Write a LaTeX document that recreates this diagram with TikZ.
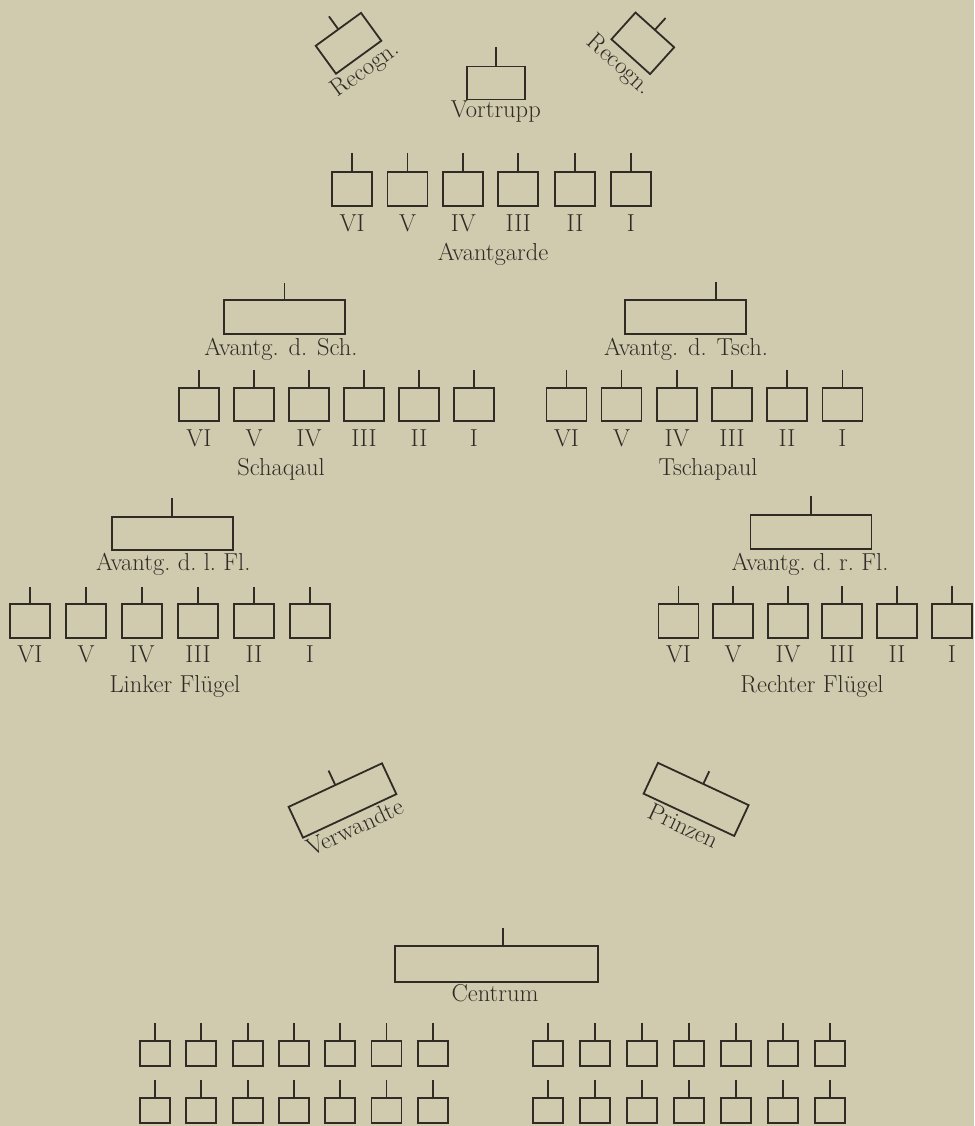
\documentclass[tikz,border=0pt]{standalone}
\usepackage{fontspec}
\definecolor{paper}{RGB}{208,203,175}
\definecolor{ink}{RGB}{48,43,37}
\tikzset{
  unitbox/.style={draw=ink, line width=1.8pt, rectangle, inner sep=0pt, outer sep=0pt},
  ticksty/.style={draw=ink, line width=1.8pt},
  lbl/.style={text=ink, inner sep=0pt, font=\fontsize{24.5}{29}\selectfont},
  sq/.style={unitbox, minimum width=40pt, minimum height=34pt},
  smallsq/.style={unitbox, minimum width=30pt, minimum height=25pt},
  wide/.style={unitbox, minimum width=121pt, minimum height=34pt}
}
\begin{document}
\begin{tikzpicture}[x=1pt,y=1pt]
\fill[paper] (0,0) rectangle (974,-1126);
\useasboundingbox (0,0) rectangle (974,-1126);

% ---------- Recognoscierung ----------
\begin{scope}[shift={(348.5,-43.3)}, rotate=36, transform shape]
  \node[unitbox, minimum width=56pt, minimum height=34.5pt] (recL) at (0,0) {};
  \draw[ticksty] (recL.north) -- ++(0,16);
  \node[lbl, anchor=north] (recLt) at (-2,-21) {Recogn.};
\end{scope}
\begin{scope}[shift={(642.8,-43.3)}, rotate=-42, transform shape]
  \node[unitbox, minimum width=52pt, minimum height=36pt] (recR) at (0,0) {};
  \draw[ticksty] (recR.north) -- ++(0,16);
  \node[lbl, anchor=north] (recRt) at (-3,-21.5) {Recogn.};
\end{scope}

% ---------- Vortrupp ----------
\node[unitbox, minimum width=58pt, minimum height=33pt] (vt) at (495.8,-83) {};
\draw[ticksty] (vt.north) -- ++(0,19);
\node[lbl, anchor=base] (vtl) at (495.8,-118) {Vortrupp};

% ---------- Avantgarde ----------
\foreach \x/\r [count=\i] in {352.2/VI,407.5/V,463.3/IV,518.3/III,575/II,630.8/I}{
  \node[sq] (ag\i) at (\x,-188.9) {};
  \draw[ticksty] (ag\i.north) -- ++(0,18.5);
  \node[lbl, anchor=base] (agl\i) at (\x,-231.7) {\r};
}
\node[lbl, anchor=base] (agt) at (493,-260) {Avantgarde};

% ---------- Schaqaul ----------
\node[wide] (avs) at (284.5,-317) {};
\draw[ticksty] (avs.north) -- ++(0,17.5);
\node[lbl, anchor=base] (avsl) at (281,-355) {Avantg. d. Sch.};
\foreach \x/\r [count=\i] in {199/VI,254/V,309/IV,364/III,419/II,474/I}{
  \node[sq, minimum height=33.3pt] (sa\i) at (\x,-404.4) {};
  \draw[ticksty] (sa\i.north) -- ++(0,17.7);
  \node[lbl, anchor=base] (sal\i) at (\x,-446) {\r};
}
\node[lbl, anchor=base] (sat) at (281,-475) {Schaqaul};

% ---------- Tschapaul ----------
\node[wide] (avt) at (685.5,-317) {};
\coordinate (avtk) at (716,-300);
\draw[ticksty] (avtk) -- ++(0,18);
\node[lbl, anchor=base] (avtl) at (686,-355) {Avantg. d. Tsch.};
\foreach \x/\r [count=\i] in {566.5/VI,621.5/V,677/IV,732/III,787/II,842.5/I}{
  \node[sq, minimum height=33.3pt] (ta\i) at (\x,-404.4) {};
  \draw[ticksty] (ta\i.north) -- ++(0,17.7);
  \node[lbl, anchor=base] (tal\i) at (\x,-446) {\r};
}
\node[lbl, anchor=base] (tat) at (708,-475) {Tschapaul};

% ---------- Linker Fluegel ----------
\node[wide, minimum height=33.3pt] (avl) at (172.2,-533.4) {};
\draw[ticksty] (avl.north) -- ++(0,18.7);
\node[lbl, anchor=base] (avll) at (173.3,-570) {Avantg.\ d.\ l.\ Fl.};
\foreach \x/\r [count=\i] in {30/VI,86/V,142/IV,198/III,254/II,310/I}{
  \node[sq] (lf\i) at (\x,-621) {};
  \draw[ticksty] (lf\i.north) -- ++(0,17.5);
  \node[lbl, anchor=base] (lfl\i) at (\x,-662) {\r};
}
\node[lbl, anchor=base] (lft) at (175,-692) {Linker Flügel};

% ---------- Rechter Fluegel ----------
\node[wide, minimum height=34.3pt] (avr) at (810.9,-532.2) {};
\draw[ticksty] (avr.north) -- ++(0,19);
\node[lbl, anchor=base] (avrl) at (810,-570) {Avantg.\ d.\ r.\ Fl.};
\foreach \x/\r [count=\i] in {678.5/VI,733/V,788/IV,842/III,897/II,952/I}{
  \node[sq] (rf\i) at (\x,-620.7) {};
  \draw[ticksty] (rf\i.north) -- ++(0,17.5);
  \node[lbl, anchor=base] (rfl\i) at (\x,-662) {\r};
}
\node[lbl, anchor=base] (rft) at (812,-692) {Rechter Flügel};

% ---------- Verwandte / Prinzen ----------
\begin{scope}[shift={(342.5,-800.5)}, rotate=25, transform shape]
  \node[unitbox, minimum width=103pt, minimum height=34pt] (vw) at (0,0) {};
  \draw[ticksty] (vw.north) -- ++(0,16);
  \node[lbl, anchor=north] (vwl) at (0,-20.5) {Verwandte};
\end{scope}
\begin{scope}[shift={(696.1,-799.4)}, rotate=-25, transform shape]
  \node[unitbox, minimum width=100pt, minimum height=34pt] (pz) at (0,0) {};
  \draw[ticksty] (pz.north) -- ++(0,14);
  \node[lbl, anchor=north] (pzl) at (0,-20.5) {Prinzen};
\end{scope}

% ---------- Centrum ----------
\node[unitbox, minimum width=203pt, minimum height=35.7pt] (ct) at (496.7,-963.9) {};
\coordinate (ctk) at (503.3,-946);
\draw[ticksty] (ctk) -- ++(0,17.7);
\node[lbl, anchor=base] (ctl) at (495,-1001.7) {Centrum};

\foreach \k in {0,...,6}{
  \node[smallsq] (cl\k) at ({155+46.3*\k},-1053.5) {};
  \draw[ticksty] (cl\k.north) -- ++(0,18.3);
  \node[smallsq] (cm\k) at ({155+46.3*\k},-1110.8) {};
  \draw[ticksty] (cm\k.north) -- ++(0,18.3);
  \node[smallsq] (cr\k) at ({548.3+46.9*\k},-1053.5) {};
  \draw[ticksty] (cr\k.north) -- ++(0,18.3);
  \node[smallsq] (cs\k) at ({548.3+46.9*\k},-1110.8) {};
  \draw[ticksty] (cs\k.north) -- ++(0,18.3);
}
\end{tikzpicture}
\end{document}
